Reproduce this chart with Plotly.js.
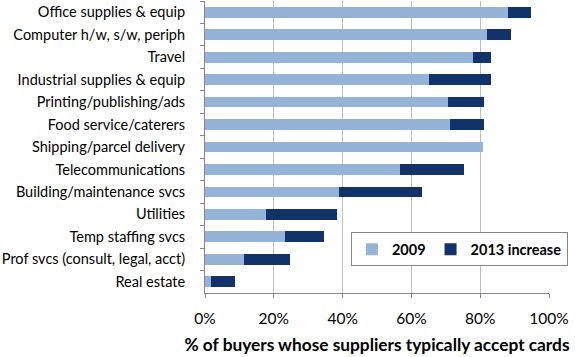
<!DOCTYPE html>
<html><head><meta charset="utf-8">
<script src="https://cdn.plot.ly/plotly-3.0.1.min.js"></script>
<style>body{margin:0;padding:0;background:#fff}#chart{width:575px;height:357px}</style>
</head><body><div id="chart"></div>
<script>
const categories = ["Office supplies & equip","Computer h/w, s/w, periph","Travel","Industrial supplies & equip","Printing/publishing/ads","Food service/caterers","Shipping/parcel delivery","Telecommunications","Building/maintenance svcs","Utilities","Temp staffing svcs","Prof svcs (consult, legal, acct)","Real estate"];
const base2009 = [0.882,0.821,0.780,0.650,0.705,0.711,0.807,0.566,0.389,0.178,0.233,0.114,0.018];
const increase2013 = [0.067,0.069,0.050,0.180,0.105,0.099,0.000,0.186,0.243,0.206,0.113,0.133,0.070];
const seriesNames = ["<b>2009</b>","<b>2013 increase</b>"];
const font = "Lato, 'Open Sans', sans-serif";
const data = [
  {type:'bar', orientation:'h', name:seriesNames[0], y:categories, x:base2009, marker:{color:'#95b3d7'}, hoverinfo:'x+y'},
  {type:'bar', orientation:'h', name:seriesNames[1], y:categories, x:increase2013, marker:{color:'#12326a'}, hoverinfo:'x+y'}
];
const layout = {
  width:575, height:357, barmode:'stack', bargap:0.52,
  margin:{l:205, r:26, t:1, b:64, autoexpand:false},
  paper_bgcolor:'#fff', plot_bgcolor:'#fff',
  font:{family:font, size:14, color:'#000'},
  xaxis:{range:[0,1], tickvals:[0,0.2,0.4,0.6,0.8,1], tickformat:'.0%', showgrid:true, gridcolor:'#bfbfbf', gridwidth:1,
         zeroline:false, showline:true, linecolor:'#868686', ticks:'outside', ticklen:4, tickcolor:'#868686',
         tickfont:{family:font, size:15.5}, ticklabelstandoff:7, fixedrange:true, automargin:false,
         title:{text:'<b>% of buyers whose suppliers typically accept cards</b>', font:{family:font, size:17.3}, standoff:13}},
  yaxis:{autorange:'reversed', type:'category', showline:true, linecolor:'#868686', ticks:'outside', ticklen:4, tickcolor:'#868686',
         tickson:'boundaries', showgrid:false, tickfont:{family:font, size:14.5}, ticklabelstandoff:16, fixedrange:true, automargin:false},
  legend:{orientation:'h', x:1.055, xanchor:'right', y:0.208, yanchor:'top', bordercolor:'#868686', borderwidth:1,
          font:{family:font, size:14.5}, bgcolor:'#fff', traceorder:'normal', itemwidth:30},
  showlegend:true
};
Plotly.newPlot('chart', data, layout, {displayModeBar:false, staticPlot:true});
</script></body></html>
